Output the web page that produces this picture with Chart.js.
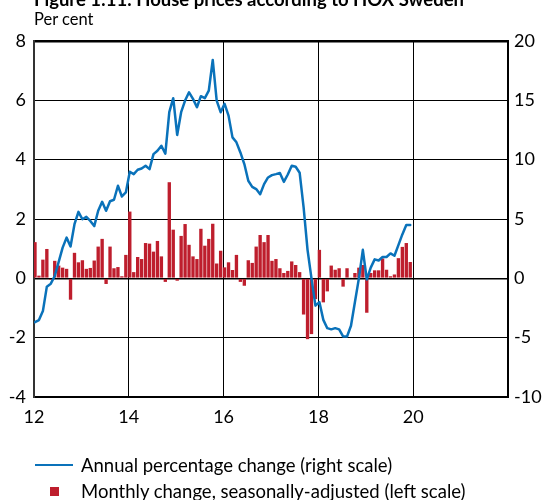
<!DOCTYPE html>
<html><head><meta charset="utf-8">
<script src="https://cdn.jsdelivr.net/npm/chart.js@4"></script>
<style>
body{margin:0;background:#fff;}
#wrap{position:relative;width:542px;height:500px;overflow:hidden;font-family:Lato, sans-serif;color:#000;}
#title{position:absolute;left:34px;top:-12px;font-weight:bold;font-size:18.5px;white-space:nowrap;}
#unit{position:absolute;left:34px;top:9px;font-size:16.5px;white-space:nowrap;}
#cv{position:absolute;left:0;top:0;}
.lt{position:absolute;left:81px;font-size:18.5px;line-height:20px;white-space:nowrap;}
</style></head>
<body>
<div id="wrap">
<canvas id="cv" width="542" height="500"></canvas>
<div id="title">Figure 1:11. House prices according to HOX Sweden</div>
<div id="unit">Per cent</div>
<div style="position:absolute;left:35px;top:464px;width:38px;border-top:2.5px solid #0a72ba;"></div>
<div class="lt" style="top:455px;">Annual percentage change (right scale)</div>
<div style="position:absolute;left:50px;top:487px;width:9px;height:9px;background:#be1e2d;"></div>
<div class="lt" style="top:481px;">Monthly change, seasonally-adjusted (left scale)</div>
</div>
<script>
const startYear = 12;
const xTickValues = [12, 14, 16, 18, 20, 22];
const xTickLabels = ['12', '14', '16', '18', '20', ''];
const leftTicks = [-4, -2, 0, 2, 4, 6, 8];
const rightTicks = [-10, -5, 0, 5, 10, 15, 20];

const monthly2012 = [1.22, 0.09, 0.63, 0.99, -0.05, 0.59, 0.43, 0.36, 0.32, -0.72, 0.86, 0.54];
const monthly2013 = [0.61, 0.32, 0.35, 0.60, 1.07, 1.33, -0.19, 1.07, 0.34, 0.38, 0.07, 0.79];
const monthly2014 = [2.25, 0.21, 0.72, 0.65, 1.19, 1.17, 0.90, 1.26, 0.74, -0.12, 3.24, 1.64];
const monthly2015 = [-0.08, 1.43, 1.83, 1.13, 0.74, 0.65, 1.67, 1.10, 1.33, 1.84, 0.50, 0.93];
const monthly2016 = [0.37, 0.54, 0.28, 0.79, -0.12, -0.25, 0.61, 0.52, 1.07, 1.46, 1.22, 1.46];
const monthly2017 = [0.59, 0.65, 0.34, 0.18, 0.25, 0.57, 0.45, 0.21, -1.22, -2.05, -1.88, -0.70];
const monthly2018 = [0.96, -0.81, -0.44, 0.43, 0.29, 0.34, -0.28, 0.34, 0.02, 0.18, 0.36, 0.45];
const monthly2019 = [-1.16, 0.18, 0.27, 0.27, 0.67, 0.29, 0.07, 0.13, 0.68, 1.06, 1.19, 0.55];

const annual2012 = [-3.69, -3.52, -2.76, -0.70, -0.45, 0.20, 1.38, 2.59, 3.43, 2.68, 4.56, 5.60];
const annual2013 = [4.98, 5.18, 4.84, 4.40, 5.70, 6.45, 5.69, 6.50, 6.62, 7.80, 6.90, 7.24];
const annual2014 = [8.98, 8.78, 9.15, 9.26, 9.49, 9.20, 10.47, 10.75, 11.17, 10.50, 14.00, 15.18];
const annual2015 = [12.08, 14.00, 14.98, 15.68, 15.12, 14.42, 15.35, 15.18, 15.82, 18.40, 14.98, 14.00];
const annual2016 = [14.70, 13.71, 11.88, 11.46, 10.61, 9.63, 8.22, 7.71, 7.52, 7.09, 7.94, 8.50];
const annual2017 = [8.70, 8.78, 8.87, 8.13, 8.75, 9.49, 9.40, 8.90, 6.00, 2.40, 0.00, -2.30];
const annual2018 = [-2.00, -3.50, -4.20, -4.30, -4.20, -4.30, -4.90, -4.90, -4.00, -2.00, 0.00, 2.40];
const annual2019 = [-0.10, 0.90, 1.60, 1.50, 1.80, 1.80, 2.10, 1.90, 2.80, 3.70, 4.50, 4.50];

const monthlyChange = [].concat(monthly2012, monthly2013, monthly2014, monthly2015, monthly2016, monthly2017, monthly2018, monthly2019);
const annualChange = [].concat(annual2012, annual2013, annual2014, annual2015, annual2016, annual2017, annual2018, annual2019);

const xOf = i => startYear + (i + 0.25) / 12;
const barData = monthlyChange.map((v, i) => ({x: xOf(i), y: v}));
const lineData = annualChange.map((v, i) => ({x: xOf(i), y: v}));

const FONT = {family: 'Lato, sans-serif', size: 18};

new Chart(document.getElementById('cv'), {
  data: {
    datasets: [
      {type: 'line', label: 'Annual percentage change (right scale)', data: lineData, yAxisID: 'y2',
       borderColor: '#0a72ba', borderWidth: 2.5, borderJoinStyle: 'round', borderCapStyle: 'round',
       pointRadius: 0, tension: 0, order: 0},
      {type: 'bar', label: 'Monthly change, seasonally-adjusted (left scale)', data: barData, yAxisID: 'y',
       backgroundColor: '#be1e2d', borderWidth: 0, barPercentage: 0.85, categoryPercentage: 1.0, order: 1}
    ]
  },
  options: {
    responsive: false,
    animation: false,
    layout: {padding: {top: 41, bottom: 63, left: 0, right: 0}},
    plugins: {legend: {display: false}, tooltip: {enabled: false}, title: {display: false}},
    scales: {
      x: {type: 'linear', min: 12, max: 22, offset: false,
          afterBuildTicks: s => { s.ticks = xTickValues.map(v => ({value: v})); },
          ticks: {callback: (v, i) => xTickLabels[i], color: '#000', font: FONT, padding: 9, maxRotation: 0},
          grid: {color: '#000', lineWidth: 1, drawTicks: false, offset: false},
          border: {color: '#000', width: 2},
          afterFit: s => { s.height = 40; }},
      y: {position: 'left', min: -4, max: 8,
          afterBuildTicks: s => { s.ticks = leftTicks.map(v => ({value: v})); },
          ticks: {color: '#000', font: FONT, padding: 8},
          grid: {color: '#000', drawTicks: false,
                 lineWidth: c => (c.tick && (c.tick.value === 8)) ? 2.5 : (c.tick && c.tick.value === 0 ? 1.5 : 1)},
          border: {color: '#333', width: 2},
          afterFit: s => { s.width = 34; }},
      y2: {position: 'right', min: -10, max: 20,
          afterBuildTicks: s => { s.ticks = rightTicks.map(v => ({value: v})); },
          ticks: {color: '#000', font: FONT, padding: 6},
          grid: {display: false, drawTicks: false},
          border: {color: '#000', width: 2},
          afterFit: s => { s.width = 34; }}
    }
  }
});
</script>
</body></html>
